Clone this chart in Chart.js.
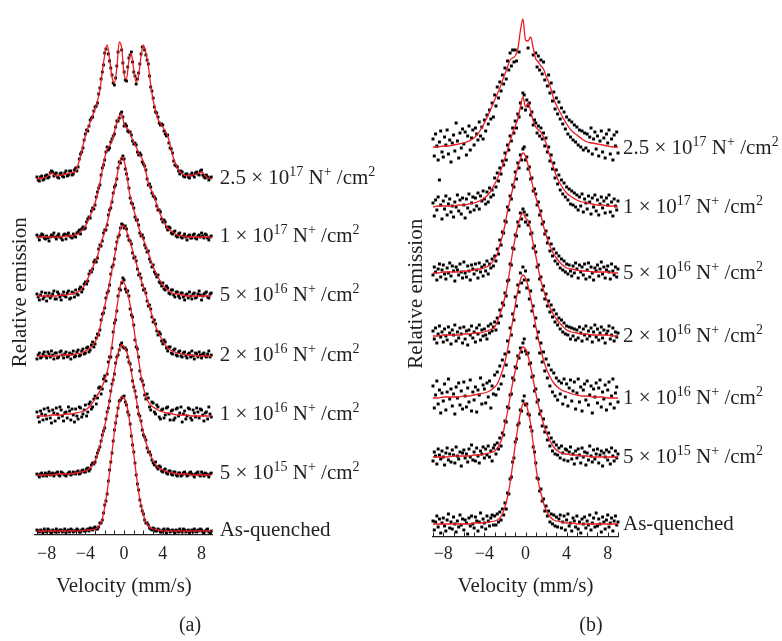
<!DOCTYPE html>
<html><head><meta charset="utf-8">
<script src="https://cdn.jsdelivr.net/npm/chart.js@4.4.1/dist/chart.umd.min.js"></script>
<style>
html,body{margin:0;padding:0;background:#fff;}
#wrap{position:relative;width:782px;height:641px;overflow:hidden;background:#fff;}
canvas{position:absolute;top:0;}
#ca{left:0;} #cb{left:400px;}
</style></head><body>
<div id="wrap"><canvas id="ca" width="380" height="641"></canvas><canvas id="cb" width="382" height="641"></canvas></div>
<script>
// ---- categories / labels ----
const seriesNames = ['As-quenched','5 × 10^{15} N^{+} /cm^{2}','1 × 10^{16} N^{+} /cm^{2}','2 × 10^{16} N^{+} /cm^{2}','5 × 10^{16} N^{+} /cm^{2}','1 × 10^{17} N^{+} /cm^{2}','2.5 × 10^{17} N^{+} /cm^{2}'];
const majorTicks = [-8,-4,0,4,8];
const panelCaptions = ['(a)','(b)'];
// stacking offsets of each spectrum (relative emission, arb. units)
const offsetsA = [0,57,116,175,235,294,352];
const offsetsB = [0,67,126,188,251,317,376];

// ---- velocity channels (mm/s) ----
const velFit = [-9,-8.5,-8,-7.5,-7,-6.5,-6,-5.5,-5,-4.5,-4,-3.5,-3,-2.75,-2.5,-2.25,-2,-1.75,-1.5,-1.25,-1,-0.75,-0.5,-0.25,0,0.25,0.5,0.75,1,1.25,1.5,1.75,2,2.25,2.5,2.75,3,3.5,4,4.5,5,5.5,6,6.5,7,7.5,8,8.5,9];
const velPts = [-9,-8.875,-8.75,-8.625,-8.5,-8.375,-8.25,-8.125,
-8,-7.875,-7.75,-7.625,-7.5,-7.375,-7.25,-7.125,
-7,-6.875,-6.75,-6.625,-6.5,-6.375,-6.25,-6.125,
-6,-5.875,-5.75,-5.625,-5.5,-5.375,-5.25,-5.125,
-5,-4.875,-4.75,-4.625,-4.5,-4.375,-4.25,-4.125,
-4,-3.875,-3.75,-3.625,-3.5,-3.375,-3.25,-3.125,
-3,-2.875,-2.75,-2.625,-2.5,-2.375,-2.25,-2.125,
-2,-1.875,-1.75,-1.625,-1.5,-1.375,-1.25,-1.125,
-1,-0.875,-0.75,-0.625,-0.5,-0.375,-0.25,-0.125,
0,0.125,0.25,0.375,0.5,0.625,0.75,0.875,
1,1.125,1.25,1.375,1.5,1.625,1.75,1.875,
2,2.125,2.25,2.375,2.5,2.625,2.75,2.875,
3,3.125,3.25,3.375,3.5,3.625,3.75,3.875,
4,4.125,4.25,4.375,4.5,4.625,4.75,4.875,
5,5.125,5.25,5.375,5.5,5.625,5.75,5.875,
6,6.125,6.25,6.375,6.5,6.625,6.75,6.875,
7,7.125,7.25,7.375,7.5,7.625,7.75,7.875,
8,8.125,8.25,8.375,8.5,8.625,8.75,8.875,
9];

// ---- panel (a): fitted curves ----
const fitA_asq  = [1,1,1,1,1,1,1,1,1,1,2,2,3, 4,7,13,25,40,60,80,100,117,129,135,134,128,115,98,78,58,40,27,17,10,6,4, 3,2,1,1,1,1,1,1,1,1,1,1,1];
const fitA_5e15 = [0,0,0,0,1,1,1,1,2,3,4,7,14, 20,29,38,49,61,75,89,103,116,126,130,128,124,115,103,89,76,63,52,42,33,25,19, 14,8,5,3,2,1,1,1,0,0,0,0,0];
const fitA_1e16 = [0,0,0,1,1,1,2,2,3,4,6,10,17, 21,25,30,36,44,55,71,90,108,124,135,133,127,117,104,88,72,56,40,28,20,14,11, 9,6,4,3,2,1,1,1,0,0,0,0,0];
const fitA_2e16 = [1,1,1,1,1,2,2,2,3,4,6,9,15, 20,29,40,51,62,74,87,100,113,124,131,131,126,119,111,102,94,85,77,70,62,54,46, 38,25,16,9,6,4,3,2,2,1,1,1,1];
const fitA_5e16 = [1,1,1,1,1,2,2,3,4,7,13,24,35, 41,50,58,65,74,85,97,108,120,133,140,136,125,107,96,87,79,70,63,57,51,44,37, 30,20,12,7,4,3,2,1,1,1,1,1,1];
const fitA_1e17 = [1,1,1,1,1,1,2,2,3,6,12,22,35, 44,55,68,80,89,92,97,106,115,122,124,114,110,108,101,96,91,85,81,76,66,55,49, 44,30,18,10,6,3,2,1,1,1,1,1,1];
const fitA_25e17 = [1,2,3,7,4,5,6,7,9,24,44,58,71, 79,90,108,125,135,121,103,97,112,138,132,106,101,120,126,110,98,105,124,135,127,114,95, 80,61,53,44,25,12,6,4,5,6,8,3,1];

// ---- panel (a): measured points ----
const ptsA_asq = [2,1,0,2,1,-1,3,1, 0,3,2,0,-1,2,1,0, 3,1,0,2,2,0,1,3, -1,1,2,0,3,2,0,1, 1,3,2,0,0,2,3,1, 1,2,3,1,4,3,2,4, 5,3,3,5,9,9,12,19, 27,31,38,51,62,70,79,91, 102,109,116,124,131,132,134,135, 136,130,127,120,117,108,96,87, 80,69,57,48,42,32,26,21, 18,12,9,9,7,4,3,2, 4,3,1,1,3,2,0,0, 2,3,1,-1,3,2,0,1, 2,1,-1,2,1,0,3,1, 0,3,2,0,1,2,-1,1, 2,0,3,1,0,2,1,3, 2,0,-1,1,2,3,0,-1, 1];
const ptsA_5e15 = [1,0,-2,1,2,-1,0,2, -1,1,3,0,1,2,-1,1, 2,3,0,-1,3,2,1,0, -1,1,2,3,0,1,3,2, 1,3,4,1,2,4,5,3, 3,6,7,4,6,10,12,11, 13,18,22,25,28,34,40,44, 47,56,63,67,74,84,91,95, 101,112,118,120,125,130,132,128, 127,127,125,118,113,111,105,94, 88,84,78,68,61,59,54,45, 40,38,35,27,23,23,20,15, 12,10,13,8,6,9,8,4, 3,5,6,2,1,4,4,1, 0,3,3,0,-1,2,2,-1, 0,2,3,1,-1,0,2,3, 1,0,-2,1,2,3,0,-1, 3,1,-1,2,1,0,-2,1, 2];
const ptsA_1e16 = [4,-1,-6,5,2,-4,7,1, -3,8,5,-2,-7,6,3,-5, 8,2,-2,9,6,0,-5,3, 4,-2,9,5,-4,7,1,-6, 7,0,-3,9,8,-1,2,6, 11,0,4,12,14,7,9,17, 20,12,18,28,29,22,27,37, 40,35,42,54,59,59,68,84, 93,96,105,120,127,126,133,138, 136,127,124,125,120,107,101,99, 91,76,69,67,59,45,37,35, 31,21,17,22,18,9,6,14, 13,4,2,11,9,-1,-3,6, 7,-2,1,8,9,2,-4,5, 6,-4,-2,7,8,0,3,9, -6,2,5,-3,0,8,7,-2, -4,6,3,-1,8,4,-2,7, 6,1,-5,3,4,-3,9,2, -1];
const ptsA_2e16 = [-2,2,4,-1,0,3,5,1, -1,5,3,0,6,2,-2,4, 4,-1,0,5,6,2,-1,3, 5,0,1,4,-2,3,6,0, 1,5,7,1,2,6,8,3, 4,9,10,5,7,12,15,10, 13,19,23,22,27,37,43,44, 49,59,64,66,72,83,90,92, 98,108,115,120,122,129,133,132, 129,131,128,121,117,116,113,104, 99,100,96,88,82,83,79,72, 67,68,64,56,51,52,48,40, 35,37,33,26,22,25,23,16, 13,17,15,9,6,10,10,4, 3,7,8,2,1,5,6,1, 0,4,5,1,-1,3,4,0, 6,1,-2,4,3,0,5,2, -1,3,4,1,0,3,6,0, 2];
const ptsA_5e16 = [3,0,-3,2,5,-2,0,4, -4,1,4,-1,1,3,6,-2, -2,5,3,0,-3,2,5,1, 0,4,6,-2,-1,5,4,0, 7,3,2,8,10,5,8,13, 15,13,16,23,26,25,28,35, 37,35,39,48,52,51,56,64, 67,67,72,82,87,89,95,104, 110,112,118,129,135,134,138,141, 138,128,123,118,109,99,94,93, 89,80,77,77,72,64,61,62, 59,52,49,45,46,38,35,30, 32,25,23,20,22,15,14,11, 14,8,7,11,9,4,3,7, 7,2,0,5,5,1,-1,4, 4,0,-3,2,3,-1,5,1, -2,3,4,-1,0,3,6,2, -3,1,3,4,5,0,-1,3, 4];
const ptsA_1e17 = [3,1,-2,2,4,3,0,-1, 2,0,-3,1,3,2,5,1, -1,2,4,1,0,-2,3,4, -1,3,5,2,1,0,4,2, 1,5,6,8,4,9,11,9, 10,16,19,21,20,27,30,29, 33,41,46,50,53,63,70,73, 78,86,91,88,90,96,99,102, 104,111,117,117,120,124,126,121, 112,114,112,107,106,106,103,97, 94,95,93,86,83,85,83,76, 74,72,68,59,53,54,51,45, 42,41,39,32,28,28,26,19, 16,18,16,11,8,11,10,5, 4,6,7,2,1,4,5,1, 0,2,4,1,-2,2,3,0, 0,3,4,0,-1,2,3,1, 5,2,0,4,3,0,-2,1, 2];
const ptsA_25e17 = [3,0,-1,3,4,0,1,4, 5,2,3,7,9,8,4,6, 7,3,2,6,7,4,3,7, 9,4,5,9,9,5,6,10, 12,9,13,21,26,28,32,40, 46,50,49,54,60,62,63,69, 73,74,77,86,92,101,108,115, 127,131,137,126,119,112,105,97, 95,102,114,128,140,135,130,117, 108,100,99,113,122,125,128,118, 108,104,96,101,107,116,126,133, 138,130,125,120,116,104,93,89, 82,73,68,67,63,57,55,56, 55,49,46,44,45,37,32,31, 27,19,15,14,13,9,6,9, 8,4,3,6,6,3,2,5, 7,5,3,7,8,6,5,9, 10,5,3,2,5,3,0,2, 3];

// ---- panel (b): fitted curves ----
const fitB_asq  = [0,0,0,0,0,0,0,0,1,1,1,2,3, 4,6,10,17,27,41,59,79,96,111,120,121,113,100,80,58,42,31,21,14,9,6,4, 3,2,1,1,0,0,0,0,0,0,0,0,0];
const fitB_5e15 = [0,0,0,0,1,1,1,1,2,2,3,4,6, 9,13,20,33,45,60,74,86,98,106,110,108,101,90,77,64,52,42,33,25,19,14,10, 7,4,3,2,2,1,1,0,0,0,0,0,0];
const fitB_1e16 = [0,0,1,1,1,1,2,2,3,4,5,7,11, 14,20,27,36,48,62,77,93,107,118,123,120,112,100,86,72,59,48,38,30,24,19,15, 12,8,6,4,3,2,2,1,1,1,0,0,0];
const fitB_2e16 = [0,0,1,1,1,1,2,2,3,3,4,6,9, 14,21,29,39,51,68,84,98,110,119,123,118,115,106,92,80,67,55,46,38,31,26,21, 17,11,6,4,3,2,2,1,1,1,1,0,0];
const fitB_5e16 = [0,0,1,1,1,1,2,2,3,4,5,8,14, 19,28,37,48,62,73,84,96,106,114,120,117,108,97,85,76,67,58,47,38,30,24,19, 15,9,5,4,3,2,2,1,1,1,1,0,0];
const fitB_1e17 = [0,1,1,1,1,2,2,3,4,6,9,14,23, 28,34,41,49,57,66,74,81,88,100,110,100,104,96,86,80,77,75,70,64,55,47,39, 31,21,14,10,7,5,4,3,2,2,1,1,0];
const fitB_25e17 = [1,1,2,2,3,4,5,7,10,16,25,36,48, 54,60,67,74,81,88,90,92,99,117,129,108,107,111,100,89,86,82,79,72,66,58,49, 43,33,24,17,13,9,6,5,4,3,2,1,1];

// ---- panel (b): measured points ----
const ptsB_asq = [3,-6,2,8,-3,5,-9,1, 6,-2,-7,4,10,-4,2,-5, 7,0,-8,3,-3,9,-1,5, -6,4,1,-10,6,-2,8,0, -4,7,3,-7,2,11,-3,5, 1,-5,8,3,-2,6,9,-1, 8,-1,10,2,12,4,15,9, 21,15,31,30,45,47,62,66, 82,85,99,101,114,113,123,128, 119,120,110,109,97,93,77,72, 61,46,45,33,35,23,25,13, 18,8,13,2,10,0,9,-2, 7,-3,5,9,-4,2,8,-6, 4,10,-2,1,-7,6,3,-3, 8,-5,2,-9,5,0,7,-4, 3,-1,9,-6,1,6,-3,11, -2,5,0,-8,7,2,-5,4, 9,-3,1,6,-7,3,8,-1, 2];
const ptsB_5e15 = [-4,5,1,-7,8,2,-2,6, 0,-8,4,9,-3,3,-5,7, 2,-6,10,1,-2,5,-9,4, 7,-1,3,-5,8,0,12,-3, 5,-4,9,1,-6,6,3,10, -1,8,2,11,0,6,-4,9, 12,3,14,8,19,11,24,22, 36,35,50,49,62,63,79,77, 90,89,101,99,109,105,114,118, 106,103,104,93,94,80,81,66, 68,55,57,43,46,31,38,25, 30,17,24,11,19,6,15,3, 12,2,9,-1,11,4,-3,8, 7,-4,5,10,-2,3,-7,6, -1,8,2,-6,9,0,5,-8, 4,-3,11,1,-5,7,-2,3, 8,-6,2,6,-9,4,0,7, -3,5,-7,9,1,-4,6,-1, 3];
const ptsB_1e16 = [12,-10,3,17,-6,8,-15,5, -3,14,-12,6,19,-1,9,-8, 4,-16,11,0,15,-7,7,-11, 16,2,-9,10,-4,18,-13,6, -2,11,-14,8,3,20,-6,13, 9,-5,15,1,17,-10,12,4, 23,3,26,9,32,14,38,22, 44,33,57,46,70,63,84,78, 101,92,113,106,125,115,131,118, 127,110,118,99,107,87,92,72, 80,60,66,45,55,36,46,27, 39,20,33,12,28,6,25,2, 20,-2,17,4,15,-6,19,1, 14,-8,10,18,-3,7,16,-11, 5,19,-4,11,-13,8,14,-2, 17,-7,3,12,-15,9,1,15, -5,10,18,-9,6,-1,13,-12, 8,16,-6,2,19,-10,5,11, -4];
const ptsB_2e16 = [5,-3,8,-7,2,10,-1,4, -6,7,0,-4,9,3,-8,6, 1,11,-5,4,-2,8,2,-7, 9,-3,5,-9,6,1,10,-2, 4,-6,8,2,11,-4,6,0, 7,1,-3,10,3,12,5,9, 14,6,18,13,26,20,33,31, 43,40,55,56,72,71,88,87, 101,100,114,110,123,117,127,124, 114,121,111,114,102,103,88,90, 84,69,71,57,59,46,50,37, 42,30,35,24,31,19,26,14, 22,11,18,7,16,4,13,2, 10,1,9,-3,8,0,7,-4, 6,-2,9,3,-5,7,1,10, -3,5,0,8,-6,4,11,-1, 7,-4,3,9,-2,6,-7,2, 5,10,-3,1,8,-5,4,-1, 3];
const ptsB_5e16 = [-2,6,1,-7,4,9,-4,3, 8,-1,-6,5,0,10,-3,7, 2,-8,6,3,-2,9,1,-5, 11,0,-4,7,2,-7,8,4, -1,9,3,-5,10,1,6,-3, 8,2,12,-1,9,5,14,7, 17,12,24,19,33,28,41,40, 52,51,66,63,77,74,88,86, 101,94,110,105,118,113,124,126, 113,116,104,106,94,95,82,84, 79,68,71,58,62,49,51,39, 42,30,35,22,29,17,24,12, 20,9,17,5,14,3,12,1, 9,-1,8,2,-3,7,0,10, 4,-5,8,1,6,-2,9,-6, 3,10,-4,6,0,-7,5,2, 8,-3,4,11,-1,6,-5,3, 7,1,-6,9,2,-2,6,-4, 4];
const ptsB_1e17 = [4,-9,7,-3,10,27,2,-12, 6,-2,11,-8,3,8,-5,1, -10,5,0,12,-4,7,-7,9, 2,-11,8,-1,13,-5,4,10, -3,9,1,14,-2,11,6,16, 8,3,15,5,19,10,17,12, 29,20,34,26,39,33,46,42, 54,47,62,57,71,66,79,74, 86,79,93,90,104,99,114,112, 97,107,101,104,92,95,82,87, 84,74,81,71,79,68,74,61, 69,55,60,46,52,38,44,29, 37,23,32,17,27,13,24,10, 20,7,18,3,16,2,14,0, 12,-3,10,1,13,-5,8,4, -2,11,5,-7,9,0,12,-4, 7,-8,3,10,-1,6,-6,9, 2,12,-5,5,-9,8,1,-3, 6];
const ptsB_25e17 = [9,-8,14,2,-12,6,17,-4, -9,11,3,18,-6,8,-14,5, 13,-3,25,7,-10,15,0,19, 4,16,-7,12,22,-2,10,18, 3,20,14,8,26,12,21,9, 28,17,33,24,38,29,45,31, 53,42,61,50,66,57,73,64, 80,69,87,78,95,82,98,86, 98,87,106,96,124,112,135,141, 103,113,100,116,106,110,93,101, 95,81,92,78,88,74,86,68, 103,62,73,55,65,47,56,39, 50,34,46,29,40,24,36,19, 31,14,28,11,26,8,23,6, 21,3,18,1,17,-2,15,0, 14,-3,11,20,-6,9,16,-1, 12,-8,7,17,-4,10,-10,14, 5,18,-6,9,-12,13,2,16, -5];

const fitsA = [fitA_asq,fitA_5e15,fitA_1e16,fitA_2e16,fitA_5e16,fitA_1e17,fitA_25e17];
const ptsA  = [ptsA_asq,ptsA_5e15,ptsA_1e16,ptsA_2e16,ptsA_5e16,ptsA_1e17,ptsA_25e17];
const fitsB = [fitB_asq,fitB_5e15,fitB_1e16,fitB_2e16,fitB_5e16,fitB_1e17,fitB_25e17];
const ptsB  = [ptsB_asq,ptsB_5e15,ptsB_1e16,ptsB_2e16,ptsB_5e16,ptsB_1e17,ptsB_25e17];

[[fitsA,velFit,'fitA'],[fitsB,velFit,'fitB'],[ptsA,velPts,'ptsA'],[ptsB,velPts,'ptsB']].forEach(([arr,v,n])=>{
  arr.forEach((a,i)=>{ if(a.length!==v.length) throw new Error(n+'['+i+'] length '+a.length+' != '+v.length); });
});

const FAMILY = "'Liberation Serif','Times New Roman',serif";
const TEXT = '#231f20';
const RED = '#ec1c24';
Chart.defaults.font.family = FAMILY;
Chart.defaults.color = TEXT;

function splitLabel(s){
  return s.split(/(\^\{[^}]*\})/).filter(p=>p.length).map(p=>p.startsWith('^{')?{t:p.slice(2,-1),sup:true}:{t:p,sup:false});
}
const labelPlugin = {
  id:'doseLabels',
  afterDraw(chart){
    const o = chart.options.plugins.doseLabels;
    const {ctx, chartArea, scales:{y}} = chart;
    ctx.save();
    ctx.fillStyle = TEXT; ctx.textBaseline='alphabetic'; ctx.textAlign='left';
    o.offsets.forEach((off,k)=>{
      let x = chartArea.right + o.gap;
      const yb = y.getPixelForValue(off) + o.dy;
      splitLabel(seriesNames[k]).forEach(p=>{
        ctx.font = (p.sup?14:21)+'px '+FAMILY;
        ctx.fillText(p.t, x, p.sup ? yb-8 : yb);
        x += ctx.measureText(p.t).width;
      });
    });
    ctx.restore();
  }
};
const innerTicks = {
  id:'innerTicks',
  afterDraw(chart){
    const {ctx, chartArea, scales:{x}} = chart;
    ctx.save(); ctx.strokeStyle=TEXT; ctx.lineWidth=1;
    for(let v=Math.ceil(x.min); v<=Math.floor(x.max); v++){
      const px = Math.round(x.getPixelForValue(v))+0.5;
      ctx.beginPath(); ctx.moveTo(px, chartArea.bottom); ctx.lineTo(px, chartArea.bottom-4); ctx.stroke();
    }
    ctx.restore();
  }
};
const fmt = v => v<0 ? '\u2212'+(-v) : String(v);

function buildDatasets(pts, fits, offsets, rad){
  const ds = [];
  fits.forEach((f,k)=>ds.push({type:'line', label:seriesNames[k]+' fit',
    data: velFit.map((x,i)=>({x, y:f[i]+offsets[k]})),
    borderColor:RED, borderWidth:1.3, pointRadius:0, fill:false,
    cubicInterpolationMode:'monotone', clip:false, order:0}));
  pts.forEach((p,k)=>ds.push({type:'scatter', label:seriesNames[k],
    data: velPts.map((x,i)=>({x, y:p[i]+offsets[k]})),
    backgroundColor:'#000', borderWidth:0, pointBorderWidth:0, pointStyle:'rect',
    pointRadius:rad, showLine:false, clip:false, order:1}));
  return ds;
}

function makeChart(id, cfg){
  return new Chart(document.getElementById(id), {
    type:'scatter',
    data:{datasets: buildDatasets(cfg.pts, cfg.fits, cfg.offsets, cfg.rad)},
    options:{
      responsive:false, animation:false, events:[],
      layout:{padding:{left:0, right:0, top:cfg.padTop, bottom:0}},
      scales:{
        x:{type:'linear', min:cfg.xmin, max:cfg.xmax,
           grid:{display:false, drawTicks:false},
           border:{display:true, color:TEXT, width:1.3},
           ticks:{stepSize:1, autoSkip:false, maxRotation:0, padding:cfg.tickPad, color:TEXT, font:{size:18},
                  callback:v=> majorTicks.includes(v) ? fmt(v) : ''},
           title:{display:true, text:'Velocity (mm/s)', color:TEXT, font:{size:21}, padding:{top:0, bottom:15}},
           afterFit:s=>{ s.height = cfg.xh; }},
        y:{type:'linear', position:'left', min:cfg.ymin, max:cfg.ymax,
           grid:{display:false, drawTicks:false}, border:{display:false},
           ticks:{display:false},
           title:{display:true, text:'Relative emission', color:TEXT, font:{size:21}, padding:{top:cfg.yTitlePad, bottom:0}},
           afterFit:s=>{ s.width = cfg.yw; }},
        labelsSide:{type:'linear', position:'right', display:true,
           grid:{display:false, drawTicks:false}, border:{display:false},
           ticks:{display:false}, title:{display:false},
           afterFit:s=>{ s.width = cfg.rightW; }}
      },
      plugins:{
        legend:{display:false}, tooltip:{enabled:false},
        title:{display:true, text:cfg.caption, position:'bottom', color:TEXT, font:{size:20, weight:'normal'}, padding:{top:0, bottom:3}},
        doseLabels:{offsets:cfg.offsets, gap:cfg.gap, dy:cfg.dy}
      }
    },
    plugins:[labelPlugin, innerTicks]
  });
}

makeChart('ca', {pts:ptsA, fits:fitsA, offsets:offsetsA, rad:2.0,
  rightW:167.3, padTop:50, xmin:-9.2, xmax:9.15, ymin:-2.5, ymax:482,
  tickPad:9, xh:79.5, yw:35, yTitlePad:7.4, caption:panelCaptions[0], gap:7, dy:4});
makeChart('cb', {pts:ptsB, fits:fitsB, offsets:offsetsB, rad:2.1,
  rightW:164, padTop:51, xmin:-9, xmax:9, ymin:-12.5, ymax:473,
  tickPad:7, xh:77.5, yw:33, yTitlePad:3.9, caption:panelCaptions[1], gap:5, dy:6});
</script>
</body></html>
